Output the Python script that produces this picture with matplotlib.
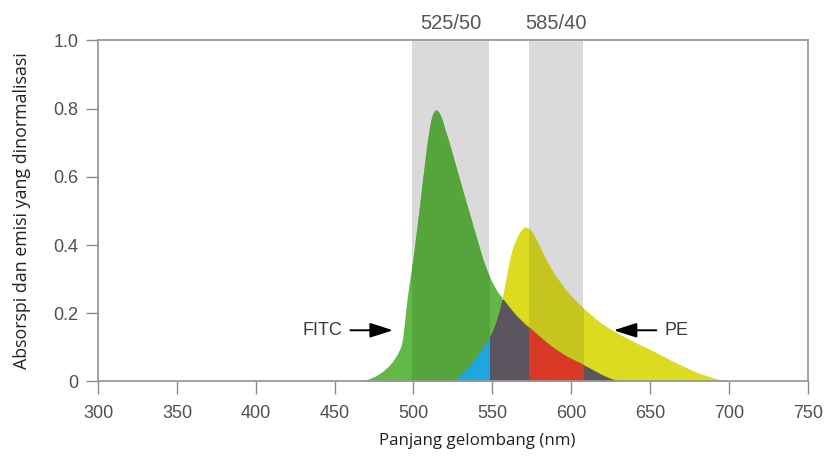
import numpy as np
import matplotlib
matplotlib.use("Agg")
import matplotlib.pyplot as plt
from matplotlib.patches import Rectangle

# spectra (normalised), common wavelength grid
wavelength = [465, 468, 472, 476, 480, 484, 487, 490, 492, 493,
              494, 495, 496, 497, 498, 500, 502, 504, 506, 508,
              509, 510, 511, 512, 513, 514, 515, 516, 517, 518,
              520, 522, 524, 526, 528, 530, 532, 535, 538, 541,
              544, 547, 550, 552, 554, 556, 557, 558, 559, 560,
              561, 562, 563, 564, 565, 566, 567, 568, 569, 570,
              571, 572, 573, 574, 575, 576, 577, 578, 580, 582,
              584, 587, 590, 593, 596, 600, 605, 610, 615, 620,
              625, 630, 635, 640, 645, 650, 655, 660, 665, 670,
              675, 680, 685, 690, 695, 700]
fitc = [0.0, 0.002, 0.008, 0.016, 0.028, 0.044, 0.06, 0.082, 0.103, 0.122,
        0.16, 0.205, 0.245, 0.278, 0.31, 0.37, 0.445, 0.52, 0.6, 0.675,
        0.71, 0.74, 0.765, 0.782, 0.792, 0.796, 0.795, 0.79, 0.781, 0.77,
        0.738, 0.71, 0.678, 0.645, 0.612, 0.58, 0.547, 0.50, 0.452, 0.405,
        0.358, 0.32, 0.29, 0.273, 0.258, 0.247, 0.241, 0.235, 0.229, 0.223,
        0.217, 0.211, 0.206, 0.2, 0.195, 0.19, 0.186, 0.181, 0.177, 0.172,
        0.168, 0.164, 0.16, 0.156, 0.152, 0.148, 0.144, 0.14, 0.132, 0.124,
        0.116, 0.105, 0.095, 0.086, 0.077, 0.067, 0.056, 0.044, 0.031, 0.019,
        0.009, 0.002, 0.0, 0.0, 0.0, 0.0, 0.0, 0.0, 0.0, 0.0,
        0.0, 0.0, 0.0, 0.0, 0.0, 0.0]
pe = [0.0, 0.0, 0.0, 0.0, 0.0, 0.0, 0.0, 0.0, 0.0, 0.0,
      0.0, 0.0, 0.0, 0.0, 0.0, 0.0, 0.0, 0.0, 0.0, 0.0,
      0.0, 0.0, 0.0, 0.0, 0.0, 0.0, 0.0, 0.0, 0.0, 0.0,
      0.0, 0.0, 0.0, 0.005, 0.012, 0.02, 0.029, 0.045, 0.062, 0.081,
      0.10, 0.122, 0.148, 0.172, 0.203, 0.24, 0.262, 0.288, 0.31, 0.335,
      0.358, 0.378, 0.394, 0.406, 0.416, 0.426, 0.435, 0.442, 0.448, 0.452,
      0.453, 0.452, 0.449, 0.445, 0.439, 0.432, 0.424, 0.415, 0.397, 0.377,
      0.357, 0.333, 0.311, 0.291, 0.272, 0.25, 0.227, 0.206, 0.186, 0.168,
      0.153, 0.14, 0.128, 0.116, 0.105, 0.094, 0.082, 0.07, 0.058, 0.047,
      0.036, 0.026, 0.018, 0.011, 0.005, 0.0]

band_edges = [(499, 548), (573, 607.5)]
band_labels = ['525/50', '585/40']

x_ticks = [300, 350, 400, 450, 500, 550, 600, 650, 700, 750]
y_ticks = [0, 0.2, 0.4, 0.6, 0.8, 1.0]
y_ticklabels = ['0', '0.2', '0.4', '0.6', '0.8', '1.0']

wl = np.array(wavelength)
f = np.array(fitc)
p = np.array(pe)
overlap = np.minimum(f, p)

fig = plt.figure(figsize=(8.31, 4.59), dpi=100)
ax = fig.add_axes([0.118, 0.169, 0.854, 0.743])

tick_font = 'Liberation Sans'
label_font = 'Open Sans'

for lo, hi in band_edges:
    ax.axvspan(lo, hi, color='#dadada', lw=0, zorder=0)

def band_clip(i):
    lo, hi = band_edges[i]
    return Rectangle((lo, 0), hi - lo, 1, transform=ax.transData)

ax.fill_between(wl, 0, f, color='#62b846', lw=0, zorder=2)
g = ax.fill_between(wl, 0, f, color='#55a43c', lw=0, zorder=2.1)
g.set_clip_path(band_clip(0))
ax.fill_between(wl, 0, p, color='#dbdc1f', lw=0, zorder=3)
o = ax.fill_between(wl, 0, p, color='#c6c520', lw=0, zorder=3.1)
o.set_clip_path(band_clip(1))
ax.fill_between(wl, 0, overlap, color='#5b5560', lw=0, zorder=4)
b = ax.fill_between(wl, 0, overlap, color='#1ea6de', lw=0, zorder=4.1)
b.set_clip_path(band_clip(0))
r = ax.fill_between(wl, 0, overlap, color='#d93a25', lw=0, zorder=4.2)
r.set_clip_path(band_clip(1))

ax.set_xlim(300, 750)
ax.set_ylim(0, 1.0)
ax.set_xticks(x_ticks)
ax.set_yticks(y_ticks)
ax.set_yticklabels(y_ticklabels)
ax.tick_params(direction='out', length=9, width=1, color='#8a8a8a',
               labelsize=13, labelcolor='#505050')
ax.tick_params(axis='x', pad=8)
ax.tick_params(axis='y', pad=5)
for lab in ax.get_xticklabels() + ax.get_yticklabels():
    lab.set_family(tick_font)
for s in ax.spines.values():
    s.set_color('#9a9a9a')
    s.set_linewidth(1.3)
    s.set_zorder(10)

for (lo, hi), txt in zip(band_edges, band_labels):
    ax.text((lo + hi) / 2, 1.05, txt, ha='center', va='center', fontsize=14.5,
            family=tick_font, color='#555555', clip_on=False)

arrow = dict(arrowstyle='-|>,head_length=1.4,head_width=0.45', mutation_scale=10,
             color='black', lw=1.4, shrinkA=0, shrinkB=0)
ax.annotate('', xy=(487, 0.15), xytext=(460, 0.15), arrowprops=arrow, zorder=6)
ax.text(455, 0.15, 'FITC', ha='right', va='center', fontsize=13,
        family=tick_font, color='#3a3a3a')
ax.annotate('', xy=(627, 0.15), xytext=(654, 0.15), arrowprops=arrow, zorder=6)
ax.text(659, 0.15, 'PE', ha='left', va='center', fontsize=13,
        family=tick_font, color='#3a3a3a')

fig.text(0.574, 0.039, 'Panjang gelombang (nm)', ha='center', va='center',
         fontsize=12.2, family=label_font, color='#222222')
fig.text(0.026, 0.541, 'Absorspi dan emisi yang dinormalisasi', ha='center',
         va='center', rotation=90, fontsize=12.8, family=label_font, color='#222222')

fig.savefig('out.png', dpi=100)
